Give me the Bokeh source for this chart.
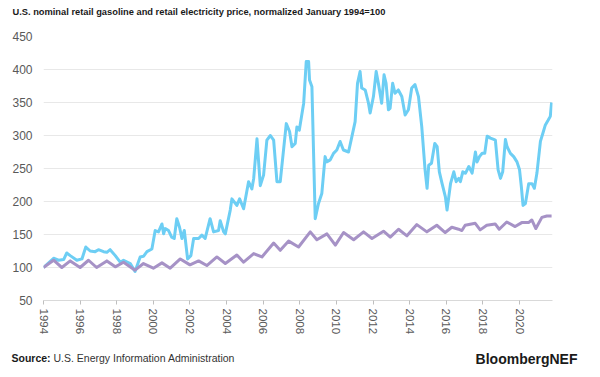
from bokeh.plotting import figure
from bokeh.models import Range1d, FixedTicker, Label
from bokeh.embed import file_html
from bokeh.resources import INLINE

# ---- data (decimal year, index Jan 1994 = 100) ----
gas_year = [1994.0, 1994.55, 1994.82, 1995.1, 1995.27, 1995.46, 1995.82, 1996.1, 1996.31, 1996.55,
            1996.82, 1997.0, 1997.28, 1997.46, 1997.64, 1997.92, 1998.19, 1998.37, 1998.74, 1999.0,
            1999.28, 1999.46, 1999.65, 1999.92, 2000.1, 2000.28, 2000.47, 2000.56, 2000.65, 2000.83,
            2001.0, 2001.14, 2001.28, 2001.43, 2001.56, 2001.69, 2001.87, 2002.05, 2002.2, 2002.47,
            2002.65, 2002.83, 2003.1, 2003.29, 2003.56, 2003.65, 2003.84, 2003.93, 2004.2, 2004.29,
            2004.56, 2004.71, 2004.93, 2005.2, 2005.38, 2005.48, 2005.66, 2005.84, 2006.02, 2006.2,
            2006.39, 2006.57, 2006.75, 2006.93, 2007.26, 2007.44, 2007.57, 2007.75, 2007.84, 2007.97,
            2008.21, 2008.35, 2008.48, 2008.53, 2008.66, 2008.84, 2009.02, 2009.2, 2009.38, 2009.47,
            2009.66, 2009.84, 2010.02, 2010.2, 2010.38, 2010.66, 2010.84, 2011.02, 2011.15, 2011.29,
            2011.38, 2011.57, 2011.75, 2011.84, 2012.02, 2012.17, 2012.29, 2012.47, 2012.6, 2012.71,
            2012.84, 2012.93, 2013.07, 2013.2, 2013.38, 2013.57, 2013.75, 2013.93, 2014.11, 2014.29,
            2014.48, 2014.66, 2014.84, 2014.95, 2015.04, 2015.19, 2015.37, 2015.5, 2015.62, 2015.77,
            2015.95, 2016.04, 2016.23, 2016.41, 2016.54, 2016.68, 2016.77, 2016.9, 2017.05, 2017.23,
            2017.41, 2017.59, 2017.68, 2017.81, 2017.96, 2018.1, 2018.23, 2018.41, 2018.59, 2018.68,
            2018.83, 2018.96, 2019.08, 2019.23, 2019.32, 2019.5, 2019.68, 2019.86, 2020.0, 2020.1,
            2020.19, 2020.32, 2020.5, 2020.68, 2020.81, 2020.95, 2021.14, 2021.27, 2021.41, 2021.56,
            2021.68, 2021.75]
gas_value = [100, 114, 111, 112, 122, 118, 111, 113, 131, 125,
             124, 127, 124, 123, 127, 118, 108, 111, 106, 94,
             116, 117, 124, 128, 156, 154, 166, 151, 159, 156,
             146, 144, 174, 161, 144, 156, 113, 118, 144, 144,
             149, 144, 174, 154, 156, 171, 154, 151, 187, 204,
             194, 204, 189, 230, 219, 235, 295, 224, 240, 293,
             300, 293, 230, 230, 318, 306, 283, 288, 313, 308,
             349, 412, 412, 384, 374, 174, 197, 212, 268, 260,
             263, 273, 278, 291, 278, 275, 298, 321, 379, 397,
             372, 369, 349, 334, 359, 397, 379, 349, 392, 379,
             339, 341, 379, 364, 369, 359, 331, 339, 372, 377,
             359, 313, 248, 220, 255, 258, 288, 283, 245, 227,
             207, 187, 227, 245, 230, 235, 230, 245, 243, 253,
             243, 275, 260, 268, 273, 273, 299, 296, 294, 293,
             248, 235, 245, 294, 283, 273, 268, 260, 248, 222,
             194, 197, 227, 227, 220, 243, 291, 303, 316, 323,
             329, 350]

elec_year = [1994.0, 1994.55, 1995.0, 1995.46, 1996.0, 1996.46, 1996.9, 1997.46, 1997.92, 1998.37,
             1999.0, 1999.46, 2000.0, 2000.47, 2000.92, 2001.47, 2002.0, 2002.47, 2002.92, 2003.47,
             2003.93, 2004.56, 2004.93, 2005.48, 2005.93, 2006.57, 2006.93, 2007.39, 2007.93, 2008.57,
             2008.93, 2009.48, 2009.94, 2010.39, 2010.94, 2011.48, 2011.94, 2012.57, 2012.94, 2013.39,
             2013.85, 2014.39, 2014.94, 2015.48, 2015.94, 2016.3, 2016.67, 2016.85, 2017.03, 2017.58,
             2017.85, 2018.21, 2018.67, 2018.89, 2019.3, 2019.76, 2020.12, 2020.49, 2020.67, 2020.89,
             2021.22, 2021.49, 2021.75]
elec_value = [100, 111, 100, 110, 100, 111, 100, 110, 101, 108,
              96, 106, 99, 107, 99, 113, 104, 110, 103, 116,
              106, 119, 108, 121, 116, 137, 126, 140, 131, 154,
              142, 151, 134, 153, 142, 154, 144, 155, 146, 158,
              148, 165, 154, 164, 153, 161, 158, 156, 164, 167,
              157, 164, 166, 158, 169, 162, 168, 168, 172, 159,
              176, 178, 178]

x_ticks = [1994, 1996, 1998, 2000, 2002, 2004, 2006, 2008, 2010, 2012, 2014, 2016, 2018, 2020]
y_ticks = [50, 100, 150, 200, 250, 300, 350, 400, 450]

title_text = "U.S. nominal retail gasoline and retail electricity price, normalized January 1994=100"
source_bold = "Source:"
source_text = "U.S. Energy Information Administration"
brand_text = "BloombergNEF"

FONT = "Liberation Sans"
GAS_COLOR = "#6dcef4"
ELEC_COLOR = "#a692c6"

p = figure(width=592, height=370, output_backend="svg", toolbar_location=None,
           x_range=Range1d(1994, 2021.8), y_range=Range1d(50, 450),
           min_border_left=43, min_border_right=40, min_border_top=36, min_border_bottom=70)
p.outline_line_color = None
p.background_fill_color = "white"
p.border_fill_color = "white"

p.line(gas_year, gas_value, line_color=GAS_COLOR, line_width=3, line_join="round")
p.line(elec_year, elec_value, line_color=ELEC_COLOR, line_width=3, line_join="round")

# axes
p.xaxis.ticker = FixedTicker(ticks=x_ticks)
p.yaxis.ticker = FixedTicker(ticks=y_ticks)
p.xaxis.major_label_orientation = "vertical"
p.xaxis.axis_line_color = "#d9d9d9"
p.xaxis.major_tick_line_color = "#bfbfbf"
p.xaxis.major_tick_out = 4
p.xaxis.major_tick_in = 0
p.xaxis.minor_tick_line_color = None
p.xaxis.major_label_standoff = 4
p.xaxis.major_label_text_font_size = "11.5px"
p.yaxis.axis_line_color = None
p.yaxis.major_tick_line_color = None
p.yaxis.minor_tick_line_color = None
p.yaxis.major_label_standoff = 5
p.yaxis.major_label_text_font_size = "12px"
for ax in (p.xaxis, p.yaxis):
    ax.major_label_text_font = FONT
    ax.major_label_text_color = "#595959"

p.xgrid.grid_line_color = None
p.ygrid.grid_line_color = "#e8e8e8"
p.ygrid.grid_line_width = 1

# title (above panel) and brand (second above panel, shifted down to the footer line)
p.add_layout(Label(x=-31, y=25, x_units="screen", y_units="screen", text=title_text,
                   text_font=FONT, text_font_style="bold", text_font_size="9.3px",
                   text_color="#1a1a1a", text_baseline="middle"), "above")
p.add_layout(Label(x=534, y=-332, x_units="screen", y_units="screen", text=brand_text,
                   text_font=FONT, text_font_style="bold", text_font_size="14px",
                   text_color="#1a1a1a", text_baseline="middle", text_align="right"), "above")

# source line (below panels)
p.add_layout(Label(x=-32, y=-8, x_units="screen", y_units="screen", text=source_bold,
                   text_font=FONT, text_font_style="bold", text_font_size="10.5px",
                   text_color="#1a1a1a", text_baseline="middle"), "below")
p.add_layout(Label(x=10, y=4, x_units="screen", y_units="screen", text=source_text,
                   text_font=FONT, text_font_size="10.5px",
                   text_color="#333333", text_baseline="middle"), "below")

open("out.html", "w").write(file_html(p, INLINE))
